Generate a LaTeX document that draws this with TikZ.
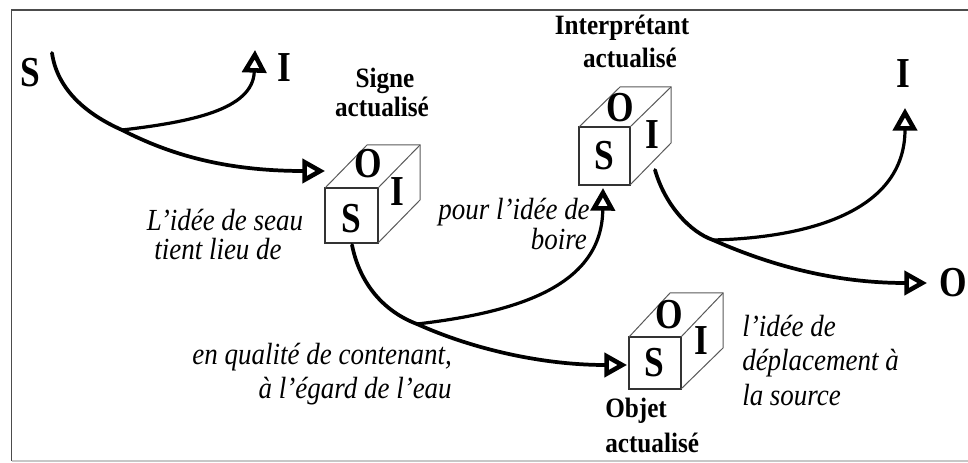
\documentclass[tikz,border=0pt]{standalone}
\usepackage{fontspec}
\setmainfont{Liberation Serif}
\newfontfamily\letfont[FakeStretch=0.83]{Liberation Serif}
\newfontfamily\lblfont[FakeStretch=0.9]{Liberation Serif}
\newfontfamily\notefont[FakeStretch=0.88]{Liberation Serif}
\usetikzlibrary{arrows.meta}
\begin{document}
\begin{tikzpicture}[x=0.75pt,y=-0.75pt,
  letter/.style={font=\letfont\bfseries\fontsize{32}{32}\selectfont, inner sep=0pt, anchor=base},
  lbl/.style={font=\lblfont\bfseries\fontsize{21}{24}\selectfont, inner sep=0pt},
  note/.style={font=\notefont\itshape\fontsize{23}{26}\selectfont, inner sep=0pt},
  stroke/.style={line width=2.8pt, line cap=round, black},
  branch/.style={line width=2.4pt, line cap=round, black},
  tipend/.style={-{Triangle[open,length=17pt,width=18pt,line width=3.4pt]}},
  frontface/.style={draw=black!80, line width=1pt},
  backedge/.style={draw=black!65, line width=0.75pt},
  framegrey/.style={draw=black!70, line width=1.3pt},
  framelight/.style={draw=black!22, line width=1.5pt}]
\useasboundingbox (0,0) rectangle (968,463);
% frame
\draw[framegrey] (11.5,461) -- (11.5,10) -- (968,10);
\draw[framelight] (11.5,461) -- (968,461);

% cube 1 (Signe actualise)
\draw[frontface] (325,188) rectangle (378,243);
\draw[backedge] (325,188) -- (367,145) -- (420,145) -- (420,200) -- (378,243);
\draw[backedge] (378,188) -- (420,145);
\node[letter] (c1S) at (351,233) {S};
\node[letter] (c1O) at (368,178) {O};
\node[letter] (c1I) at (397,206) {I};

% cube 2 (Interpretant actualise)
\draw[frontface] (579,127) rectangle (630,185);
\draw[backedge] (579,127) -- (620,87) -- (671,87) -- (671,143) -- (630,185);
\draw[backedge] (630,127) -- (671,87);
\node[letter] (c2S) at (604,170) {S};
\node[letter] (c2O) at (620,122) {O};
\node[letter] (c2I) at (652,149) {I};

% cube 3 (Objet actualise)
\draw[frontface] (629,337) rectangle (681,389);
\draw[backedge] (629,337) -- (670,293) -- (723,293) -- (723,348) -- (681,389);
\draw[backedge] (681,337) -- (723,293);
\node[letter] (c3S) at (654,377) {S};
\node[letter] (c3O) at (669,329) {O};
\node[letter] (c3I) at (701,354) {I};

% free letters
\node[letter] (S0) at (30,87) {S};
\node[letter] (I1) at (284,82) {I};
\node[letter] (I2) at (903,88) {I};
\node[letter] (O2) at (953,297) {O};

% bold labels
\node[lbl, anchor=base] (sa1) at (385,88) {Signe};
\node[lbl, anchor=base] (sa2) at (382,117) {actualisé};
\node[lbl, anchor=base] (ia1) at (622,35) {Interprétant};
\node[lbl, anchor=base] (ia2) at (630,68) {actualisé};
\node[lbl, anchor=base west] (oa1) at (605,417) {Objet};
\node[lbl, anchor=base west] (oa2) at (605,452) {actualisé};

% italic notes
\node[note, anchor=base] (n1a) at (225,231) {L’idée de seau};
\node[note, anchor=base] (n1b) at (218,260) {tient lieu de};
\node[note, anchor=base east] (n2a) at (590,220) {pour l’idée de};
\node[note, anchor=base east] (n2b) at (587,250) {boire};
\node[note, anchor=base east] (n3a) at (452,364) {en qualité de contenant,};
\node[note, anchor=base east] (n3b) at (452,398) {à l’égard de l’eau};
\node[note, anchor=base west] (n4a) at (742,337) {l’idée de};
\node[note, anchor=base west] (n4b) at (742,371) {déplacement à};
\node[note, anchor=base west] (n4c) at (742,406) {la source};

% connector coordinates
\coordinate (a0) at (52,53);
\coordinate (j1) at (122,130);
\coordinate (t1) at (325,171);
\coordinate (t2) at (255,50);
\coordinate (b0) at (352,245);
\coordinate (j2) at (417,324);
\coordinate (t3) at (603,188);
\coordinate (t4) at (627,365);
\coordinate (d0) at (655,170);
\coordinate (j3) at (713,240);
\coordinate (t5) at (905,108);
\coordinate (t6) at (927,283);

% group 1
\draw[stroke] (a0) .. controls (58,95) and (95,118) .. (j1);
\draw[stroke, tipend] (j1) .. controls (165,152) and (220,171) .. (t1);
\draw[branch, tipend] (j1) .. controls (190,122) and (253,110) .. (t2);
% group 2
\draw[stroke] (b0) .. controls (360,285) and (385,312) .. (j2);
\draw[stroke, tipend] (j2) .. controls (470,348) and (540,365) .. (t4);
\draw[branch, tipend] (j2) .. controls (520,312) and (602,285) .. (t3);
% group 3
\draw[stroke] (d0) .. controls (665,205) and (690,232) .. (j3);
\draw[stroke, tipend] (j3) .. controls (765,263) and (830,283) .. (t6);
\draw[branch, tipend] (j3) .. controls (800,238) and (905,215) .. (t5);
\end{tikzpicture}
\end{document}
